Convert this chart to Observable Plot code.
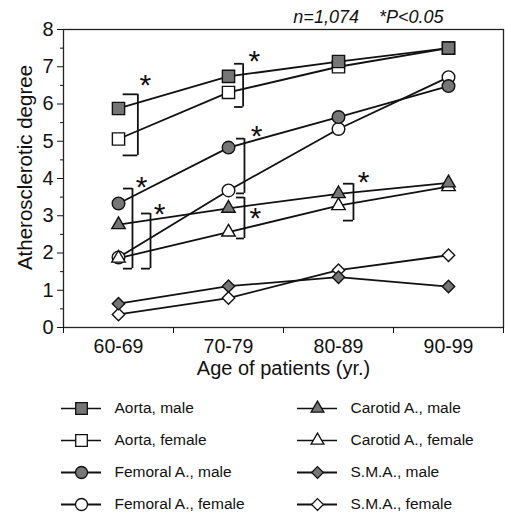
<!DOCTYPE html>
<html><head><meta charset="utf-8">
<script src="https://cdn.jsdelivr.net/npm/d3@7"></script>
<script src="https://cdn.jsdelivr.net/npm/@observablehq/plot@0.6"></script>
<style>
body{margin:0;background:#fff;font-family:"Liberation Sans",Arial,sans-serif}
#chart svg{display:block}
</style>
</head><body><div id="chart"></div><script>
// ---- data ----
const categories = ["60-69", "70-79", "80-89", "90-99"];
const seriesNames = ["Aorta, male", "Aorta, female", "Femoral A., male", "Femoral A., female",
                     "Carotid A., male", "Carotid A., female", "S.M.A., male", "S.M.A., female"];
const aortaMale     = [5.88, 6.74, 7.14, 7.50];
const aortaFemale   = [5.06, 6.31, 7.00, 7.50];
const femoralMale   = [3.33, 4.83, 5.65, 6.48];
const femoralFemale = [1.88, 3.68, 5.33, 6.72];
const carotidMale   = [2.76, 3.20, 3.59, 3.88];
const carotidFemale = [1.86, 2.56, 3.27, 3.78];
const smaMale       = [0.64, 1.11, 1.35, 1.10];
const smaFemale     = [0.35, 0.79, 1.54, 1.94];
// significance brackets (x in category units, y in degree units)
const brackets = [
  {x: 0.676, xl: 0.542, top: 6.26, bottom: 4.62},
  {x: 1.633, xl: 1.555, top: 7.08, bottom: 5.92},
  {x: 1.645, xl: 1.573, top: 5.07, bottom: 3.60},
  {x: 0.627, xl: 0.545, top: 3.73, bottom: 1.58},
  {x: 0.791, xl: 0.709, top: 3.06, bottom: 1.58},
  {x: 1.645, xl: 1.573, top: 3.49, bottom: 2.39},
  {x: 2.636, xl: 2.545, top: 3.86, bottom: 2.87}
];
const stars = [
  {x: 0.745, y: 6.70}, {x: 1.736, y: 7.35}, {x: 1.755, y: 5.34}, {x: 0.709, y: 3.95},
  {x: 0.873, y: 3.25}, {x: 1.745, y: 3.14}, {x: 2.727, y: 4.10}
];
const noteText = "n=1,074\u00a0\u00a0\u00a0\u00a0*P<0.05";
const xTitle = "Age of patients (yr.)";
const yTitle = "Atherosclerotic degree";

// ---- styling ----
const seriesValues = [aortaMale, aortaFemale, femoralMale, femoralFemale, carotidMale, carotidFemale, smaMale, smaFemale];
const seriesSymbols = ["square", "square", "circle", "circle", "triangle", "triangle", "diamond2", "diamond2"];
const seriesR = [6.9, 6.9, 6.3, 6.3, 5.0, 5.0, 5.6, 5.6];
const seriesFilled = [true, false, true, false, true, false, true, false];
const drawOrder = [1, 0, 3, 2, 5, 4, 7, 6];
const legendCol = [0, 0, 0, 0, 1, 1, 1, 1];
const legendRow = [0, 1, 2, 3, 0, 1, 2, 3];
const FONT = '"Liberation Sans", Arial, Helvetica, sans-serif';
const GRAY = "#767676";

const rows = [];
seriesNames.forEach((name, s) => seriesValues[s].forEach((v, i) => rows.push({s, name, cat: i, value: v})));
const xOf = d => d.cat + 0.5;

const lineMarks = seriesNames.map((name, s) =>
  Plot.line(rows.filter(d => d.s === s), {x: xOf, y: "value", stroke: "#111", strokeWidth: 1.8}));
const dotMarks = drawOrder.map(s =>
  Plot.dot(rows.filter(d => d.s === s), {x: xOf, y: "value", symbol: seriesSymbols[s], r: seriesR[s],
    fill: seriesFilled[s] ? GRAY : "#fff", stroke: "#111", strokeWidth: 1.4}));

const main = Plot.plot({
  width: 505, height: 385,
  marginLeft: 63, marginRight: 2, marginTop: 29, marginBottom: 58,
  style: {fontFamily: FONT, fontSize: "19px", color: "#111", background: "#fff", overflow: "visible"},
  x: {type: "linear", domain: [0, 4]},
  y: {domain: [0, 8]},
  marks: [
    Plot.frame({stroke: "#222", strokeWidth: 1.3}),
    Plot.axisY({ticks: d3.range(0, 9), tickSize: 6, tickPadding: 4, fontSize: 20, label: null}),
    Plot.axisY({ticks: d3.range(0.5, 8, 1), tickSize: 3, tickFormat: () => "", label: null}),
    Plot.axisX({ticks: [0, 1, 2, 3, 4], tickSize: 6, tickFormat: () => "", label: null}),
    Plot.axisX({ticks: categories.map((c, i) => i + 0.5), tickSize: 0, tickPadding: 12,
      tickFormat: v => categories[Math.floor(v)], fontSize: 19.5, label: null}),
    ...lineMarks,
    Plot.ruleX(brackets, {x: "x", y1: "top", y2: "bottom", stroke: "#111", strokeWidth: 1.8}),
    Plot.ruleY(brackets, {y: "top", x1: "xl", x2: "x", stroke: "#111", strokeWidth: 1.8}),
    Plot.ruleY(brackets, {y: "bottom", x1: "xl", x2: "x", stroke: "#111", strokeWidth: 1.8}),
    ...dotMarks,
    Plot.text(stars, {x: "x", y: "y", text: () => "*", fontSize: 30, lineAnchor: "middle", dy: 7.5, fill: "#111"}),
    Plot.text([xTitle], {frameAnchor: "bottom", lineAnchor: "top", dy: 33, fontSize: 20, fill: "#111"}),
    Plot.text([yTitle], {frameAnchor: "left", textAnchor: "middle", rotate: -90, lineAnchor: "middle",
      dx: -38, dy: -11, fontSize: 20.5, fill: "#111"}),
    Plot.text([noteText], {frameAnchor: "top-right", textAnchor: "end", lineAnchor: "middle", dx: -60, dy: -12,
      fontSize: 18, fontStyle: "italic", fill: "#111"})
  ]
});

const legendData = seriesNames.map((name, s) => ({s, name, col: legendCol[s], row: legendRow[s]}));
const legend = Plot.plot({
  width: 505, height: 129, margin: 0,
  style: {fontFamily: FONT, fontSize: "15px", color: "#111", background: "#fff"},
  x: {type: "band", domain: [0, 1], range: [61, 338], paddingInner: 0.8312, paddingOuter: 0, align: 0, axis: null},
  y: {type: "point", domain: [0, 1, 2, 3], range: [22, 119], padding: 0, axis: null},
  marks: [
    Plot.tickY(legendData, {x: "col", y: "row", stroke: "#111", strokeWidth: d => d.row < 2 ? 1.4 : 2}),
    ...legendData.map(d => Plot.dot([d], {x: "col", y: "row", symbol: seriesSymbols[d.s], r: seriesR[d.s] * 0.95,
      fill: seriesFilled[d.s] ? GRAY : "#fff", stroke: "#111", strokeWidth: 1.3})),
    Plot.text(legendData, {x: "col", y: "row", text: "name", textAnchor: "start", dx: 33, fontSize: 15.5, fill: "#111"})
  ]
});

const root = document.getElementById("chart");
root.appendChild(main);
root.appendChild(legend);
</script></body></html>
